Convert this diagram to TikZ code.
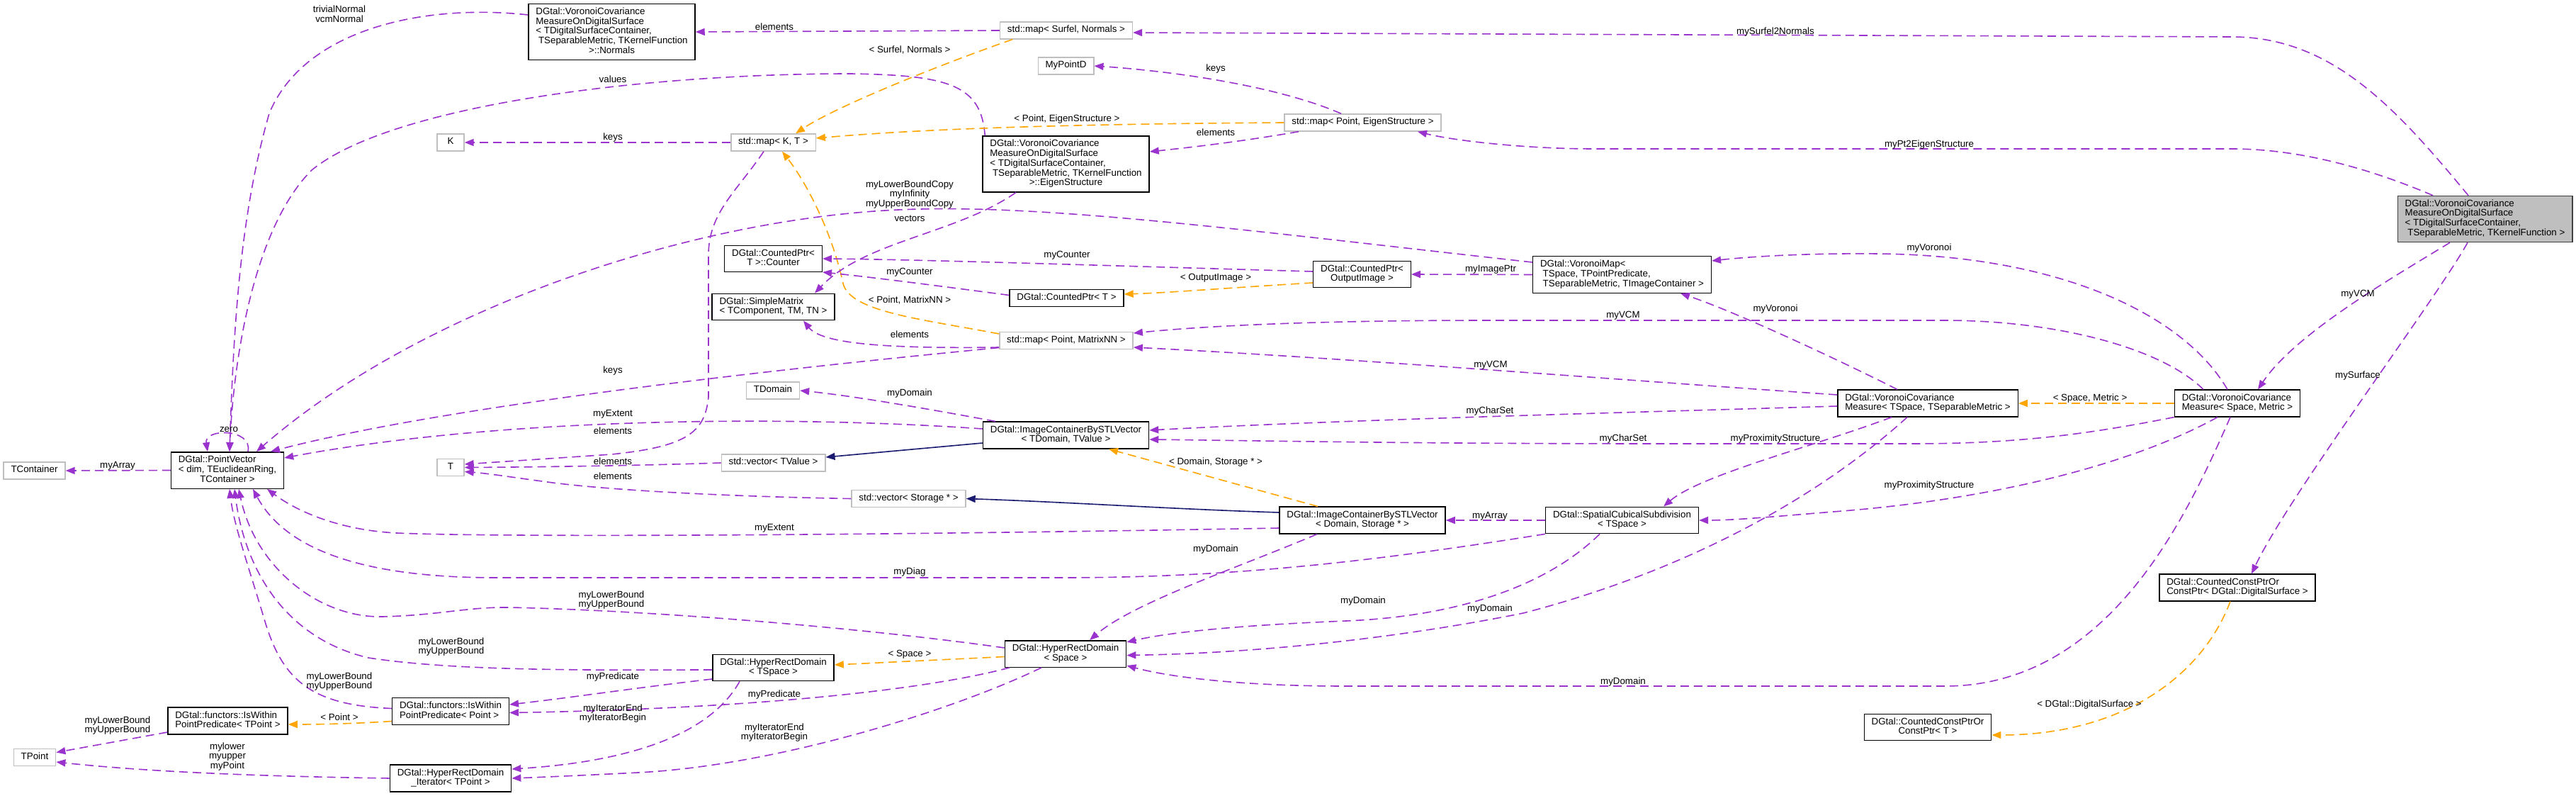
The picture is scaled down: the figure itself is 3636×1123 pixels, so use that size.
\documentclass[tikz,border=0pt]{standalone}
\usepackage{fontspec}
\usepackage{xcolor}
\usepackage{tikz}
\usetikzlibrary{arrows.meta}
\setmainfont{Liberation Sans}
\definecolor{usecol}{HTML}{9A32CD}
\definecolor{tplcol}{HTML}{FFA500}
\definecolor{inhcol}{HTML}{191970}
\definecolor{extcol}{HTML}{BFBFBF}
\newcommand{\dfont}{\fontsize{6.67pt}{6.67pt}\selectfont}
\newcommand{\ltab}[1]{\begin{tabular}{@{}l@{}}#1\end{tabular}}
\newcommand{\ctab}[1]{\begin{tabular}{@{}c@{}}#1\end{tabular}}
\newcommand{\ctrln}[1]{\multicolumn{1}{@{}c@{}}{#1}}

\begin{document}
\begin{tikzpicture}[
    x=0.5pt, y=-0.5pt,
    box/.style={draw, line width=0.7pt, fill=white, font=\dfont,
                inner xsep=5.2pt, inner ysep=2.6pt, minimum width=19pt},
    ext/.style={box, draw=extcol, text height=4.8pt, text depth=2pt},
    mainbox/.style={box, fill=extcol, draw=black!75},
    lab/.style={font=\dfont, text=black, inner sep=0pt},
    mem/.style={-{Triangle[length=6.5pt, width=5pt]}, usecol, line width=0.8pt,
                dash pattern=on 6pt off 3.5pt},
    tpl/.style={mem, tplcol},
    inh/.style={-{Triangle[length=6.5pt, width=5pt]}, inhcol, line width=0.8pt}
  ]
  \useasboundingbox (0,0) rectangle (3636,1123);

  \node[box] (nrm)   at (863.5,45)     {\ltab{DGtal::VoronoiCovariance\\ MeasureOnDigitalSurface\\ < TDigitalSurfaceContainer,\\ \ TSeparableMetric, TKernelFunction\\ \ctrln{>::Normals}}};
  \node[ext] (msn)   at (1505,43)      {std::map< Surfel, Normals >};
  \node[ext] (mpd)   at (1504.5,93)    {MyPointD};
  \node[ext] (k)     at (636,201)      {K};
  \node[ext] (mkt)   at (1091.5,201)   {std::map< K, T >};
  \node[ext] (mpe)   at (1923.5,173)   {std::map< Point, EigenStructure >};
  \node[box] (eig)   at (1504.5,231.5) {\ltab{DGtal::VoronoiCovariance\\ MeasureOnDigitalSurface\\ < TDigitalSurfaceContainer,\\ \ TSeparableMetric, TKernelFunction\\ \ctrln{>::EigenStructure}}};
  \node[box] (cnt)   at (1091.5,365)   {\ctab{DGtal::CountedPtr<\\ T >::Counter}};
  \node[box] (smx)   at (1091.5,433)   {\ltab{DGtal::SimpleMatrix\\ < TComponent, TM, TN >}};
  \node[box] (cpt)   at (1505.5,420.5) {\ltab{DGtal::CountedPtr< T >}};
  \node[box] (cpo)   at (1922.5,387)   {\ctab{DGtal::CountedPtr<\\ OutputImage >}};
  \node[box] (vmap)  at (2289.5,387.5) {\ltab{DGtal::VoronoiMap<\\ \ TSpace, TPointPredicate,\\ \ TSeparableMetric, TImageContainer >}};
  \node[ext] (mpm)   at (1505,480.5)   {std::map< Point, MatrixNN >};
  \node[ext] (tdom)  at (1091,551)     {TDomain};
  \node[box] (ictv)  at (1504.5,614)   {\ctab{DGtal::ImageContainerBySTLVector\\ < TDomain, TValue >}};
  \node[ext] (vtv)   at (1091.5,653)   {std::vector< TValue >};
  \node[ext] (vst)   at (1282.5,703.5) {std::vector< Storage * >};
  \node[ext] (t)     at (636,659.5)    {T};
  \node[box] (pv)    at (321,663.5)    {\ltab{DGtal::PointVector\\ < dim, TEuclideanRing,\\ \ctrln{TContainer >}}};
  \node[ext] (tcont) at (48.5,664)     {TContainer};
  \node[box] (icds)  at (1923,734)     {\ctab{DGtal::ImageContainerBySTLVector\\ < Domain, Storage * >}};
  \node[box] (scs)   at (2289.5,734)   {\ctab{DGtal::SpatialCubicalSubdivision\\ < TSpace >}};
  \node[box] (vcmt)  at (2721,569)     {\ltab{DGtal::VoronoiCovariance\\ Measure< TSpace, TSeparableMetric >}};
  \node[box] (vcms)  at (3158,569)     {\ltab{DGtal::VoronoiCovariance\\ Measure< Space, Metric >}};
  \node[mainbox] (main) at (3507.5,309) {\ltab{DGtal::VoronoiCovariance\\ MeasureOnDigitalSurface\\ < TDigitalSurfaceContainer,\\ \ TSeparableMetric, TKernelFunction >}};
  \node[box] (ccds)  at (3158,829)     {\ltab{DGtal::CountedConstPtrOr\\ ConstPtr< DGtal::DigitalSurface >}};
  \node[box] (ccpt)  at (2721,1026)    {\ctab{DGtal::CountedConstPtrOr\\ ConstPtr< T >}};
  \node[box] (hrds)  at (1504,922.5)   {\ctab{DGtal::HyperRectDomain\\ < Space >}};
  \node[box] (hrdt)  at (1091.5,942)   {\ctab{DGtal::HyperRectDomain\\ < TSpace >}};
  \node[box] (iwp)   at (636,1003.5)   {\ltab{DGtal::functors::IsWithin\\ PointPredicate< Point >}};
  \node[box] (iwtp)  at (321.5,1017)   {\ltab{DGtal::functors::IsWithin\\ PointPredicate< TPoint >}};
  \node[ext] (tpt)   at (49,1068.5)    {TPoint};
  \node[box] (hrdit) at (636,1098)     {\ctab{DGtal::HyperRectDomain\\ \_Iterator< TPoint >}};

  \draw[mem] ([yshift=12pt]nrm.west) .. controls (600,5) and (430,40) .. (380,160) .. controls (340,300) and (330,450) .. ([xshift=1.5pt]pv.north) node[lab] at (479,22) {\ctab{trivialNormal\\ vcmNormal}};
  \draw[mem] ([xshift=2pt]eig.north west) .. controls (1385,120) and (1340,106) .. (1200,104) .. controls (900,104) and (550,150) .. (440,240) .. controls (360,320) and (330,500) .. ([xshift=1.5pt]pv.north) node[lab] at (865,112) {values};
  \draw[mem] ([xshift=14.5pt]pv.north) .. controls (357,604) and (288,604) .. ([xshift=-14pt]pv.north) node[lab] at (323,606) {zero};
  \draw[mem] ([yshift=8.75pt]vmap.west) .. controls (1800,330) and (1500,290) .. (1300,295) .. controls (1000,300) and (600,430) .. ([xshift=20.5pt]pv.north) node[lab] at (1284,275) {\ctab{myLowerBoundCopy\\ myInfinity\\ myUpperBoundCopy}};
  \draw[mem] ([yshift=-5pt]mpm.west) .. controls (1000,530) and (600,580) .. ([xshift=30.5pt]pv.north) node[lab] at (865,523) {keys};
  \draw[mem] ([yshift=4.5pt]ictv.west) .. controls (1100,585) and (700,590) .. ([yshift=8.75pt]pv.east) node[lab] at (865,584) {myExtent};
  \draw[mem] ([yshift=-5.5pt]icds.west) .. controls (1200,756) and (700,758) .. (560,752) .. controls (480,748) and (420,722) .. ([xshift=28pt]pv.south) node[lab] at (1093,745) {myExtent};
  \draw[mem] (scs.south west) .. controls (1950,790) and (1750,815) .. (1500,815) -- (700,815) .. controls (500,815) and (400,770) .. ([xshift=18pt]pv.south) node[lab] at (1284,807) {myDiag};
  \draw[mem] ([yshift=4.25pt]hrds.west) .. controls (1250,890) and (950,862) .. (720,857) .. controls (660,856) and (620,868) .. (540,870) .. controls (450,872) and (360,800) .. ([xshift=8pt]pv.south) node[lab] at (863,847) {\ctab{myLowerBound\\ myUpperBound}};
  \draw[mem] ([yshift=-1.5pt]hrdt.west) .. controls (850,945) and (650,948) .. (520,928) .. controls (400,900) and (345,800) .. ([xshift=5pt]pv.south) node[lab] at (637,913) {\ctab{myLowerBound\\ myUpperBound}};
  \draw[mem] ([yshift=2pt]iwp.west) .. controls (440,995) and (400,960) .. (375,880) .. controls (348,790) and (330,740) .. ([xshift=1.5pt]pv.south) node[lab] at (479,962) {\ctab{myLowerBound\\ myUpperBound}};
  \draw[mem] (pv.west) -- (tcont.east) node[lab] at (166,657) {myArray};

  \draw[mem] (mkt.west) -- (k.east) node[lab] at (865,194) {keys};
  \draw[mem] ([xshift=-6.75pt]mkt.south) .. controls (1040,270) and (1000,300) .. (1000,360) -- (1000,560) .. controls (995,610) and (970,630) .. (863,641) .. controls (760,648) and (700,652) .. ([yshift=2.25pt]t.east) node[lab] at (865,608) {elements};
  \draw[mem] (vtv.west) .. controls (900,657) and (750,659) .. (t.east) node[lab] at (865,651) {elements};
  \draw[mem] (vst.west) .. controls (1000,700) and (850,690) .. (780,681) .. controls (720,673) and (690,668) .. ([yshift=-3pt]t.east) node[lab] at (865,672) {elements};
  \draw[tpl] ([yshift=4.75pt]mpm.west) .. controls (1300,450) and (1200,440) .. (1190,400) .. controls (1175,330) and (1140,260) .. ([xshift=6.25pt]mkt.south) node[lab] at (1284,424) {< Point, MatrixNN >};
  \draw[mem] ([yshift=-4.75pt]mpm.west) .. controls (1250,492) and (1160,485) .. ([xshift=21.25pt]smx.south) node[lab] at (1284,472) {elements};
  \draw[mem] ([xshift=-35.25pt]eig.south) .. controls (1350,330) and (1220,340) .. ([xshift=29.25pt]smx.north) node[lab] at (1284,308) {vectors};
  \draw[mem] ([xshift=-15.25pt]mpe.north) .. controls (1800,120) and (1650,100) .. (mpd.east) node[lab] at (1716,97) {keys};
  \draw[tpl] (mpe.west) .. controls (1500,175) and (1300,182) .. ([yshift=3pt]mkt.east) node[lab] at (1506,168) {< Point, EigenStructure >};
  \draw[mem] ([xshift=-45.25pt]mpe.south) .. controls (1750,200) and (1680,208) .. ([yshift=8.75pt]eig.east) node[lab] at (1716,187) {elements};
  \draw[mem] (msn.west) -- (nrm.east) node[lab] at (1093,38) {elements};
  \draw[tpl] ([xshift=-38pt]msn.south) .. controls (1330,90) and (1180,150) .. ([xshift=15.75pt]mkt.north) node[lab] at (1284,71) {< Surfel, Normals >};

  \draw[mem] ([yshift=2pt]cpo.west) .. controls (1600,376) and (1300,366) .. (cnt.east) node[lab] at (1506,360) {myCounter};
  \draw[mem] ([yshift=2pt]cpt.west) .. controls (1300,400) and (1220,390) .. ([yshift=-9.5pt]cnt.east) node[lab] at (1284,384) {myCounter};
  \draw[tpl] ([yshift=-6pt]cpo.west) .. controls (1750,405) and (1650,413) .. ([yshift=2.75pt]cpt.east) node[lab] at (1716,392) {< OutputImage >};
  \draw[mem] (vmap.west) -- (cpo.east) node[lab] at (2104,380) {myImagePtr};
  \draw[mem] ([xshift=-49.75pt]ictv.north) .. controls (1300,575) and (1200,558) .. (tdom.east) node[lab] at (1284,555) {myDomain};
  \draw[inh] ([yshift=-5.5pt]ictv.west) -- ([yshift=4pt]vtv.east);
  \draw[inh] ([yshift=5.5pt]icds.west) .. controls (1650,718) and (1500,708) .. (vst.east);
  \draw[tpl] ([xshift=-31.5pt]icds.north) -- ([xshift=30.25pt]ictv.south) node[lab] at (1716,652) {< Domain, Storage * >};
  \draw[mem] ([xshift=-32pt]icds.south) .. controls (1750,800) and (1600,850) .. ([xshift=17pt]hrds.north) node[lab] at (1716,775) {myDomain};
  \draw[mem] (scs.west) -- (icds.east) node[lab] at (2103,728) {myArray};
  \draw[mem] ([xshift=-15.75pt]scs.south) .. controls (2180,830) and (2050,870) .. (1900,876) .. controls (1750,882) and (1650,892) .. ([yshift=8.25pt]hrds.east) node[lab] at (1924,848) {myDomain};

  \draw[mem] ([yshift=6pt]vcmt.west) .. controls (2300,537) and (1900,505) .. ([yshift=-4.75pt]mpm.east) node[lab] at (2104,515) {myVCM};
  \draw[mem] ([yshift=-2pt]vcmt.west) .. controls (2300,582) and (1900,592) .. ([yshift=3.5pt]ictv.east) node[lab] at (2103,580) {myCharSet};
  \draw[mem] ([xshift=-25.5pt]vcmt.south) .. controls (2560,630) and (2400,670) .. ([xshift=29.25pt]scs.north) node[lab] at (2506,619) {myProximityStructure};
  \draw[mem] ([xshift=-21.5pt]vcmt.north) .. controls (2600,510) and (2450,440) .. ([xshift=41.25pt]vmap.south) node[lab] at (2506,436) {myVoronoi};
  \draw[mem] ([xshift=-14.5pt]vcmt.south) .. controls (2580,690) and (2400,800) .. (2150,865) .. controls (1950,905) and (1750,922) .. ([yshift=-1pt]hrds.east) node[lab] at (2103,859) {myDomain};
  \draw[tpl] (vcms.west) -- (vcmt.east) node[lab] at (2950,562) {< Space, Metric >};
  \draw[mem] ([xshift=-24pt]vcms.north) .. controls (3050,490) and (2900,452) .. (2745,452) -- (2100,452) .. controls (1850,452) and (1700,460) .. ([yshift=5.25pt]mpm.east) node[lab] at (2291,445) {myVCM};
  \draw[mem] ([xshift=-7pt]vcms.north) .. controls (3080,440) and (2900,360) .. (2650,358) .. controls (2550,357) and (2470,362) .. ([yshift=9.75pt]vmap.east) node[lab] at (2723,350) {myVoronoi};
  \draw[mem] (vcms.south west) .. controls (2950,612) and (2850,626) .. (2700,626) -- (2350,626) .. controls (2000,626) and (1800,622) .. ([yshift=-3pt]ictv.east) node[lab] at (2291,619) {myCharSet};
  \draw[mem] ([xshift=-14pt]vcms.south) .. controls (3000,660) and (2800,705) .. (2600,721) .. controls (2500,729) and (2450,734) .. (scs.east) node[lab] at (2723,685) {myProximityStructure};
  \draw[mem] ([xshift=-5pt]vcms.south) .. controls (3090,720) and (2980,968) .. (2745,968) -- (1900,968) .. controls (1750,968) and (1650,955) .. ([yshift=-8.25pt]hrds.east) node[lab] at (2291,962) {myDomain};

  \draw[mem] ([xshift=-11.75pt]main.north) .. controls (3380,150) and (3290,52) .. (3150,52) -- ([yshift=-1.5pt]msn.east) node[lab] at (2506,45) {mySurfel2Normals};
  \draw[mem] ([xshift=-36.75pt]main.north) .. controls (3350,240) and (3250,210) .. (3150,210) -- (2250,210) .. controls (2150,210) and (2050,198) .. ([xshift=38.75pt]mpe.south) node[lab] at (2723,204) {myPt2EigenStructure};
  \draw[mem] ([xshift=-24.75pt]main.south) .. controls (3380,390) and (3240,470) .. ([xshift=14.5pt]vcms.north) node[lab] at (3328,415) {myVCM};
  \draw[mem] ([xshift=-12.25pt]main.south) .. controls (3440,420) and (3230,700) .. ([xshift=10pt]ccds.north) node[lab] at (3328,530) {mySurface};
  \draw[tpl] ([xshift=-5pt]ccds.south) .. controls (3110,950) and (3000,1037) .. ([yshift=-5.5pt]ccpt.east) node[lab] at (2949,994) {< DGtal::DigitalSurface >};

  \draw[tpl] ([yshift=-2pt]hrds.west) -- ([yshift=2pt]hrdt.east) node[lab] at (1284,923) {< Space >};
  \draw[mem] ([xshift=-39.5pt]hrds.south) .. controls (1300,975) and (1050,1000) .. ([yshift=-1pt]iwp.east) node[lab] at (1093,980) {myPredicate};
  \draw[mem] ([xshift=-17pt]hrds.south) .. controls (1350,1000) and (1100,1080) .. (900,1090) .. controls (800,1095) and (750,1097) .. (hrdit.east) node[lab] at (1093,1034) {\ctab{myIteratorEnd\\ myIteratorBegin}};
  \draw[mem] ([yshift=-8pt]hrdt.west) .. controls (900,970) and (800,985) .. ([yshift=4.75pt]iwp.east) node[lab] at (865,955) {myPredicate};
  \draw[mem] ([xshift=-23.75pt]hrdt.south) .. controls (1000,1040) and (880,1075) .. ([yshift=6.5pt]hrdit.east) node[lab] at (865,1007) {\ctab{myIteratorEnd\\ myIteratorBegin}};
  \draw[tpl] ([yshift=-7pt]iwp.west) .. controls (500,1021) and (450,1022) .. ([yshift=-2.5pt]iwtp.east) node[lab] at (479,1012) {< Point >};
  \draw[mem] ([yshift=-8pt]iwtp.west) -- ([yshift=3.5pt]tpt.east) node[lab] at (166,1024) {\ctab{myLowerBound\\ myUpperBound}};
  \draw[mem] (hrdit.west) .. controls (350,1095) and (200,1088) .. ([yshift=-3.25pt]tpt.east) node[lab] at (321,1068) {\ctab{mylower\\ myupper\\ myPoint}};
\end{tikzpicture}
\end{document}
